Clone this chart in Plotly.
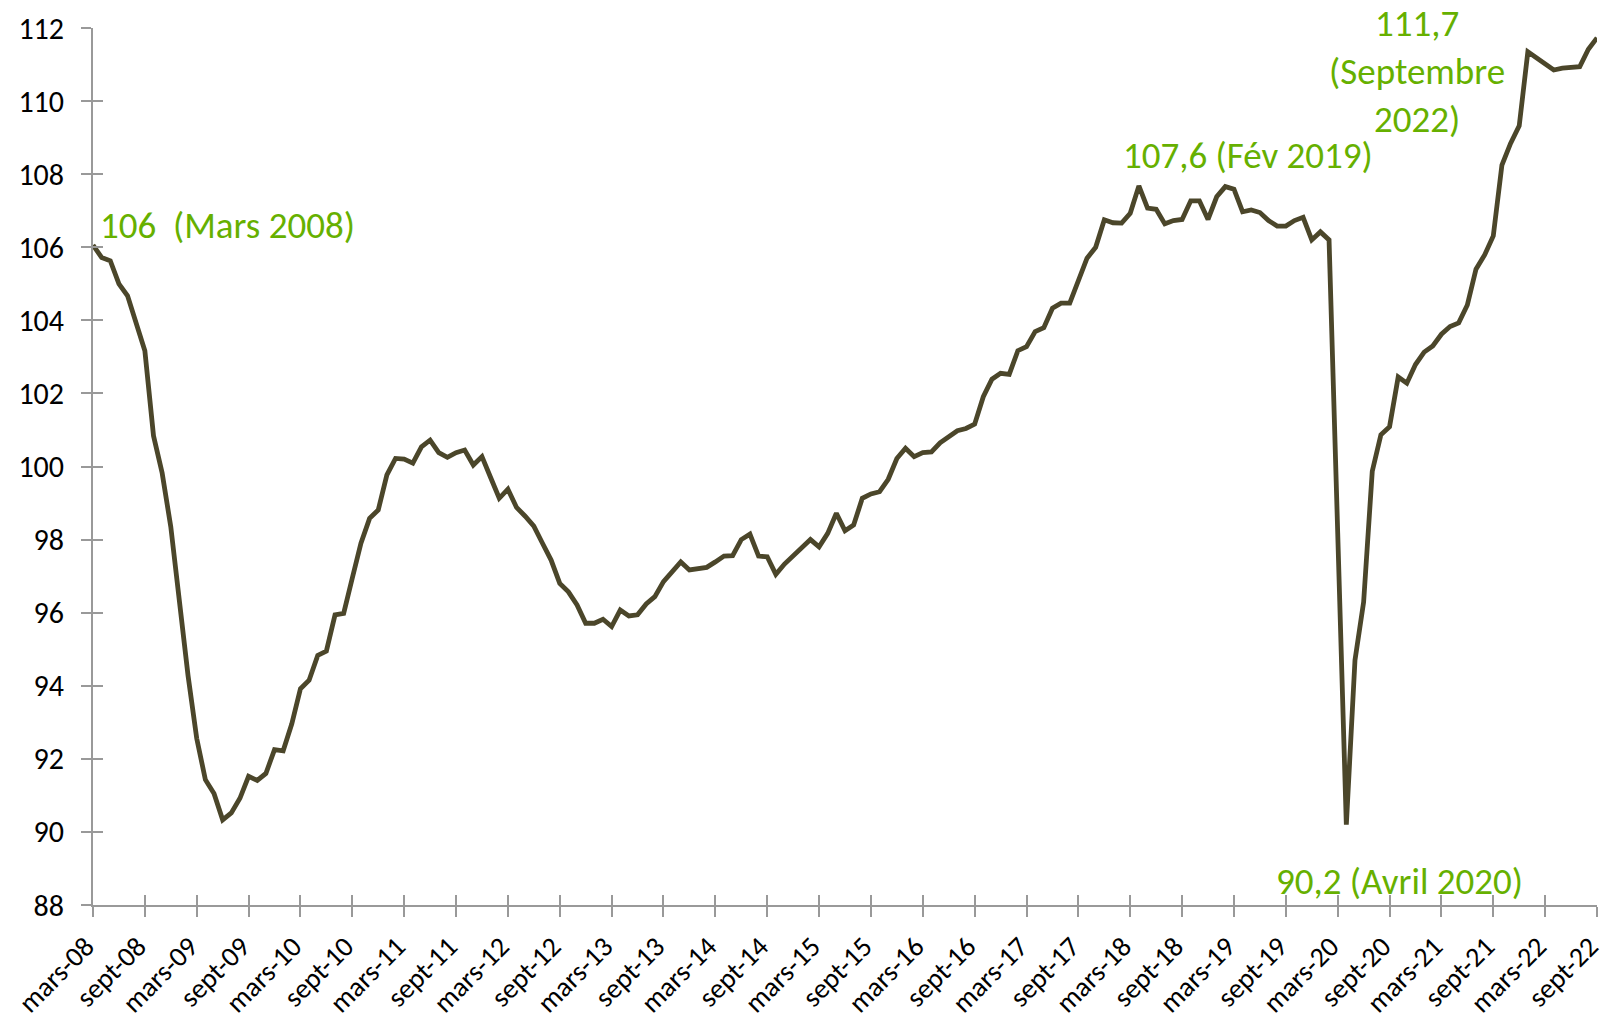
import plotly.graph_objects as go

# Monthly index values, mars-08 .. sept-22 (175 months)
values = [
    106.06, 105.72, 105.63, 105.00, 104.67, 103.96, 103.17, 100.84, 99.82, 98.35,
    96.35, 94.27, 92.56, 91.43, 91.05, 90.33, 90.52, 90.92, 91.52, 91.41,
    91.60, 92.25, 92.22, 92.96, 93.92, 94.15, 94.83, 94.95, 95.94, 95.98,
    96.95, 97.90, 98.58, 98.81, 99.77, 100.22, 100.20, 100.09, 100.54, 100.72,
    100.38, 100.25, 100.38, 100.45, 100.04, 100.27, 99.70, 99.13, 99.38, 98.88,
    98.64, 98.37, 97.90, 97.44, 96.80, 96.57, 96.21, 95.71, 95.71, 95.82,
    95.62, 96.07, 95.91, 95.94, 96.24, 96.44, 96.85, 97.12, 97.39, 97.17,
    97.19, 97.24, 97.39, 97.55, 97.56, 98.00, 98.15, 97.55, 97.53, 97.05,
    97.33, 97.55, 97.80, 98.00, 97.80, 98.17, 98.72, 98.24, 98.40, 99.13,
    99.25, 99.31, 99.65, 100.22, 100.50, 100.27, 100.38, 100.40, 100.65, 100.80,
    100.98, 101.04, 101.16, 101.91, 102.39, 102.55, 102.52, 103.17, 103.28, 103.69,
    103.80, 104.33, 104.47, 104.47, 105.10, 105.70, 106.00, 106.75, 106.67, 106.66,
    106.93, 107.68, 107.07, 107.04, 106.64, 106.73, 106.76, 107.27, 107.27, 106.76,
    107.38, 107.66, 107.59, 106.97, 107.02, 106.95, 106.73, 106.58, 106.58, 106.73,
    106.82, 106.20, 106.42, 106.20, 98.20, 90.20, 94.70, 96.29, 99.87, 100.87,
    101.09, 102.45, 102.28, 102.79, 103.13, 103.30, 103.62, 103.83, 103.93, 104.42,
    105.40, 105.79, 106.31, 108.25, 108.84, 109.32, 111.35, 111.17, 110.99, 110.85,
    110.90, 110.92, 110.94, 111.42, 111.73,
]
months = list(range(len(values)))

tick_labels = [
    "mars-08", "sept-08", "mars-09", "sept-09", "mars-10", "sept-10",
    "mars-11", "sept-11", "mars-12", "sept-12", "mars-13", "sept-13",
    "mars-14", "sept-14", "mars-15", "sept-15", "mars-16", "sept-16",
    "mars-17", "sept-17", "mars-18", "sept-18", "mars-19", "sept-19",
    "mars-20", "sept-20", "mars-21", "sept-21", "mars-22", "sept-22",
]
tick_positions = [i * 6 for i in range(len(tick_labels))]
y_ticks = [88, 90, 92, 94, 96, 98, 100, 102, 104, 106, 108, 110, 112]

annotations_text = [
    ("106\u00a0 (Mars 2008)", 0.6, 106.6, "left"),
    ("107,6 (Fév 2019)", 133.6, 108.5, "center"),
    ("111,7<br>(Septembre<br>2022)", 153.2, 110.82, "center"),
    ("90,2 (Avril 2020)", 151.1, 88.65, "center"),
]

FONT = "Carlito, Lato, sans-serif"
GREEN = "#66B000"
LINE = "#4B462A"
AXIS = "#999999"

fig = go.Figure()
fig.add_trace(go.Scatter(
    x=months, y=values, mode="lines",
    line=dict(color=LINE, width=4.8),
    hoverinfo="skip", showlegend=False,
))
# invisible trace carrying the overlay axes (inner half of the crossing ticks)
fig.add_trace(go.Scatter(
    x=months, y=values, mode="lines", xaxis="x2", yaxis="y2",
    line=dict(color="rgba(0,0,0,0)", width=0),
    hoverinfo="skip", showlegend=False,
))

xr = [0, len(values) - 1]
yr = [88, 112]

fig.update_layout(
    width=1606, height=1022,
    margin=dict(l=93, r=9, t=28, b=117, autoexpand=False),
    paper_bgcolor="white", plot_bgcolor="white",
    font=dict(family=FONT, color="black"),
    xaxis=dict(
        range=xr, tickmode="array", tickvals=tick_positions, ticktext=tick_labels,
        tickangle=-45, tickfont=dict(size=28, family=FONT, color="black"),
        ticks="outside", ticklen=10, tickwidth=2, tickcolor=AXIS,
        showline=True, linecolor=AXIS, linewidth=2,
        showgrid=False, zeroline=False, ticklabelstandoff=2,
        ticklabelshift=-7, ticklabeloverflow="allow", automargin=False,
    ),
    yaxis=dict(
        range=yr, tickmode="array", tickvals=y_ticks,
        tickfont=dict(size=30, family=FONT, color="black"),
        ticks="outside", ticklen=10, tickwidth=2, tickcolor=AXIS,
        showline=True, linecolor=AXIS, linewidth=2,
        showgrid=False, zeroline=False, ticklabelstandoff=11,
        automargin=False,
    ),
    xaxis2=dict(
        range=xr, overlaying="x", anchor="y2", side="bottom",
        tickmode="array", tickvals=tick_positions,
        ticks="inside", ticklen=10, tickwidth=2, tickcolor=AXIS,
        showticklabels=False, showline=False, showgrid=False, zeroline=False,
        automargin=False,
    ),
    yaxis2=dict(
        range=yr, overlaying="y", anchor="x2", side="left",
        tickmode="array", tickvals=y_ticks,
        ticks="inside", ticklen=10, tickwidth=2, tickcolor=AXIS,
        showticklabels=False, showline=False, showgrid=False, zeroline=False,
        automargin=False,
    ),
)

for text, x, y, anchor in annotations_text:
    fig.add_annotation(
        x=x, y=y, xref="x", yref="y", text=text, showarrow=False,
        xanchor=anchor, yanchor="middle", align="center",
        font=dict(family=FONT, size=37, color=GREEN),
    )

fig.write_html("out.html", config={"displayModeBar": False},
               post_script="document.body.style.margin='0';")
